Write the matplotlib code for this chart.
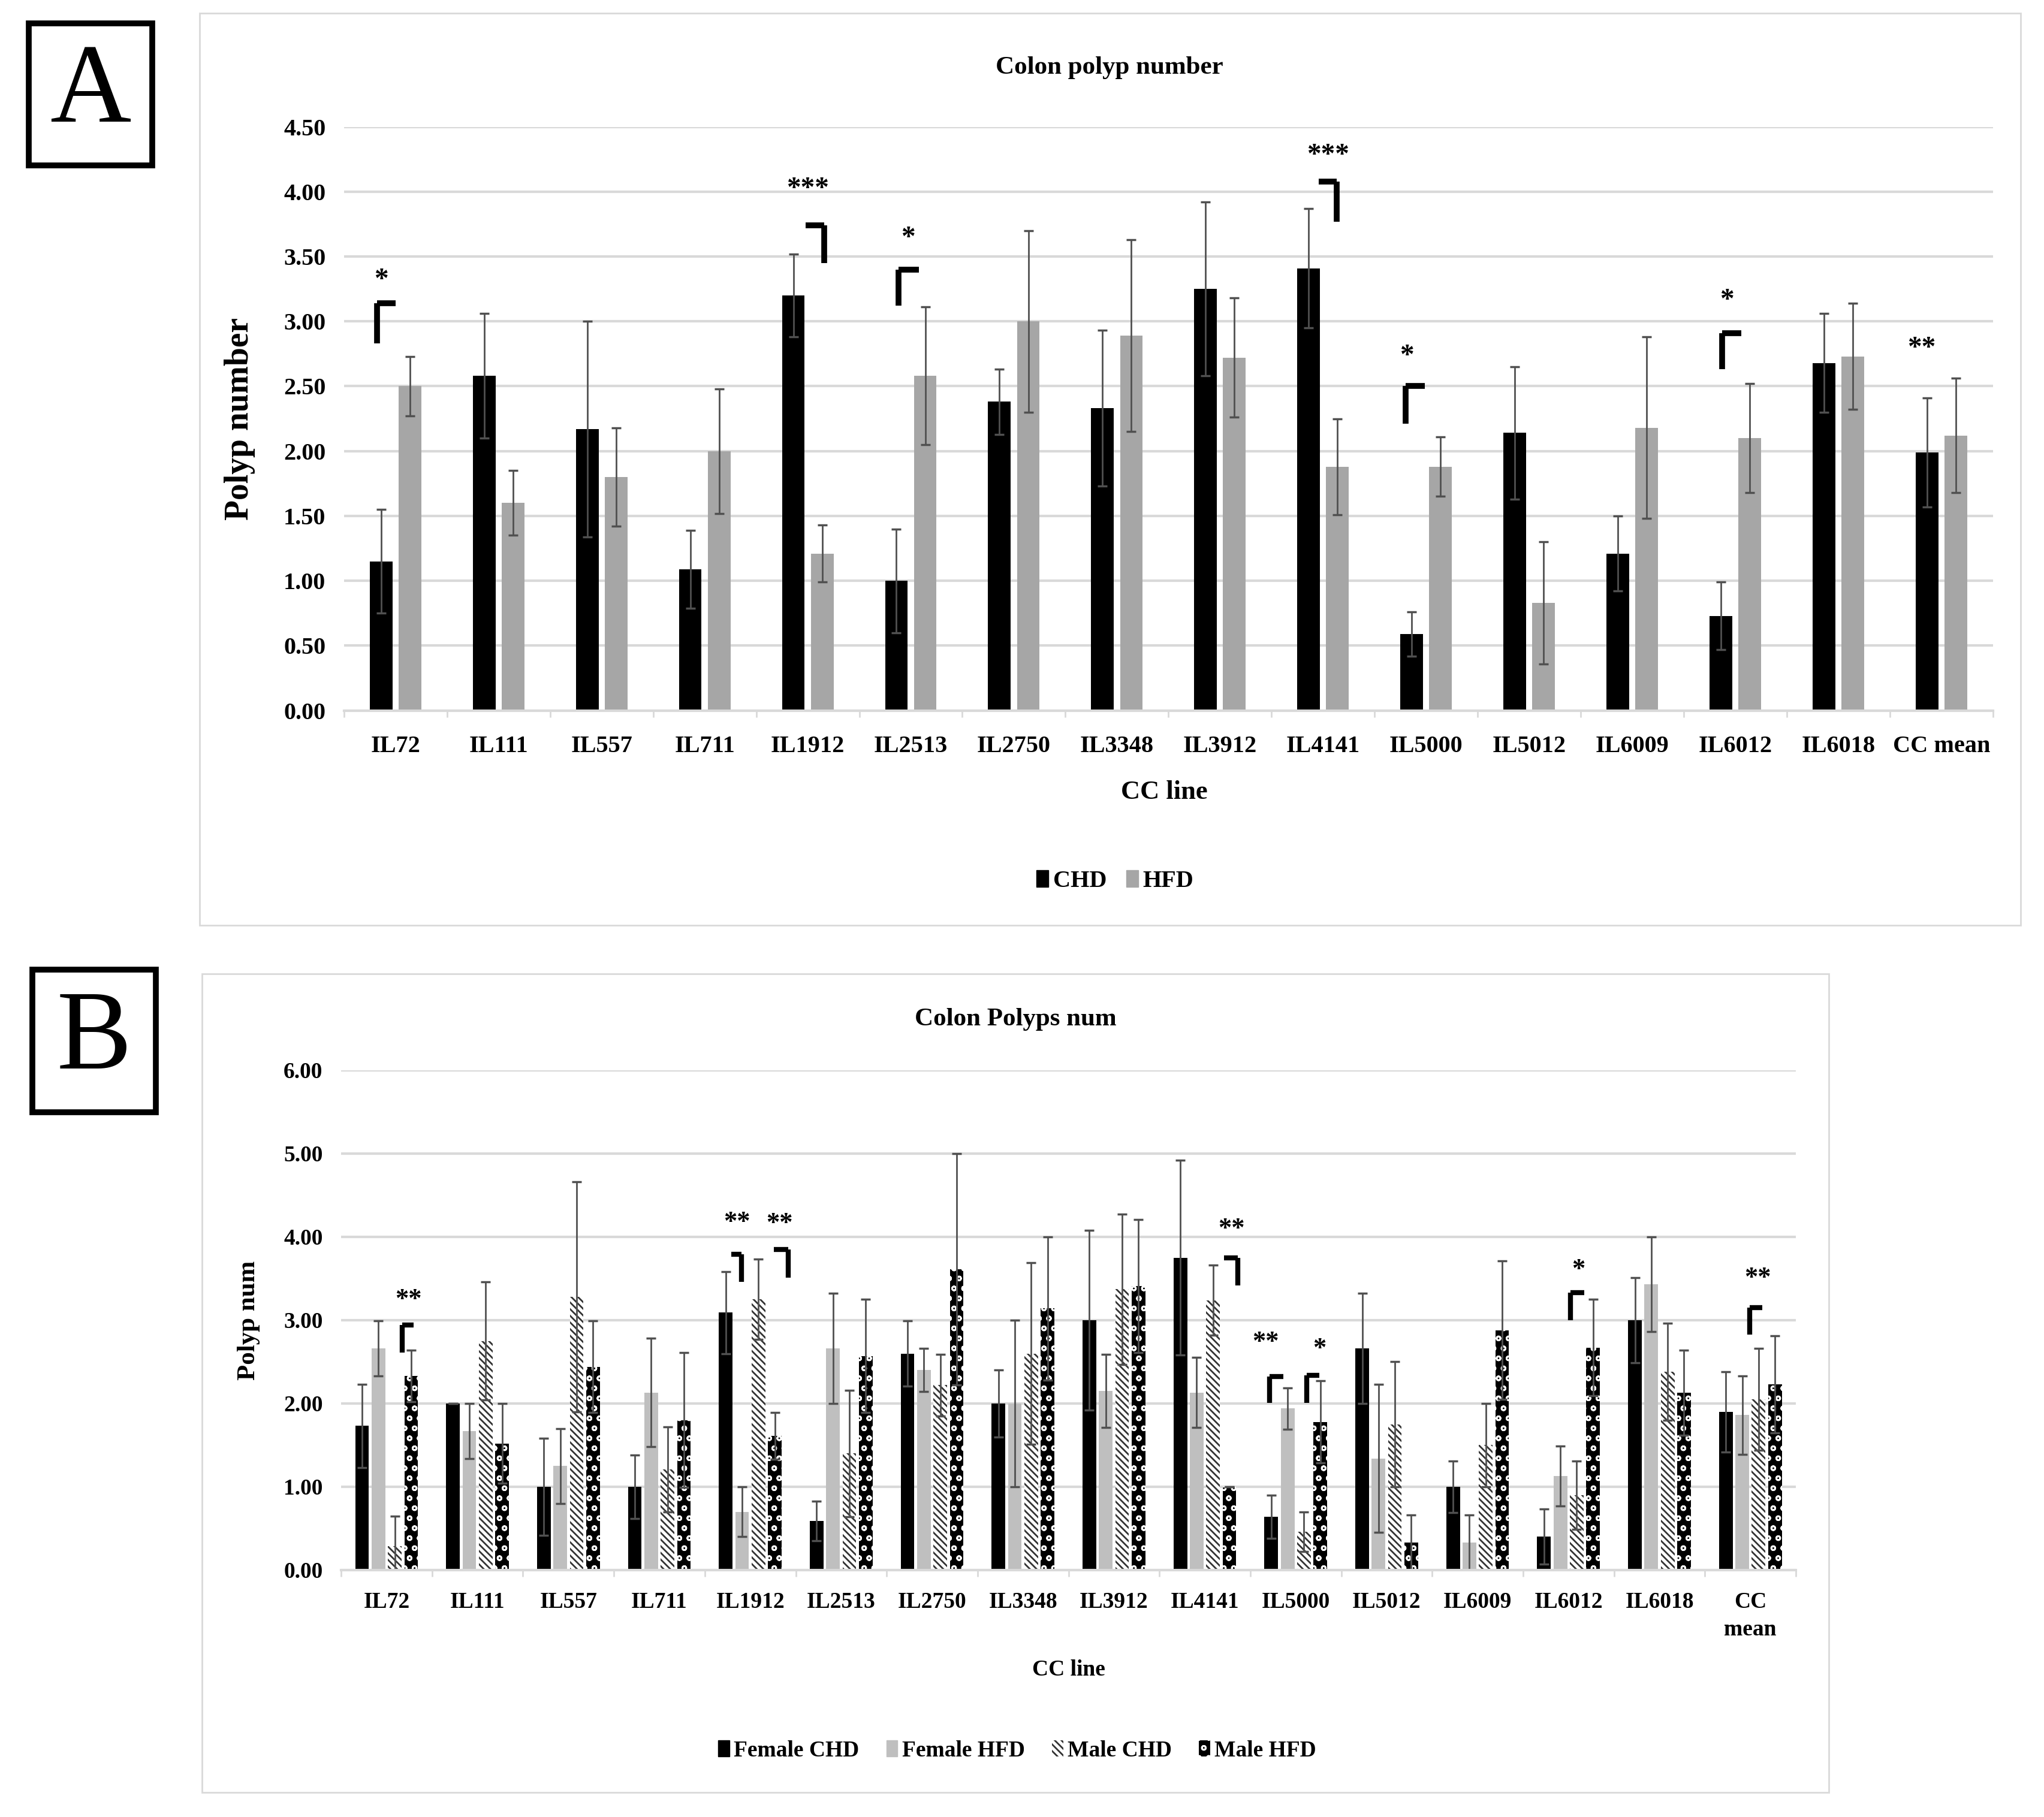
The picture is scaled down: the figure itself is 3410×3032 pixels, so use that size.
import matplotlib
matplotlib.use("Agg")
import matplotlib.pyplot as plt
import numpy as np
from matplotlib.patches import Rectangle, Patch

plt.rcParams['font.family'] = ['Liberation Serif', 'DejaVu Serif']
plt.rcParams['font.weight'] = 'bold'
plt.rcParams['axes.labelweight'] = 'bold'
plt.rcParams['hatch.linewidth'] = 2.0

# ---- data ----
lines_a = ["IL72", "IL111", "IL557", "IL711", "IL1912", "IL2513", "IL2750", "IL3348",
           "IL3912", "IL4141", "IL5000", "IL5012", "IL6009", "IL6012", "IL6018", "CC mean"]
chd = [1.15, 2.58, 2.17, 1.09, 3.20, 1.00, 2.38, 2.33, 3.25, 3.41, 0.59, 2.14, 1.21, 0.73, 2.68, 1.99]
chd_err = [0.40, 0.48, 0.83, 0.30, 0.32, 0.40, 0.25, 0.60, 0.67, 0.46, 0.17, 0.51, 0.29, 0.26, 0.38, 0.42]
hfd = [2.50, 1.60, 1.80, 2.00, 1.21, 2.58, 3.00, 2.89, 2.72, 1.88, 1.88, 0.83, 2.18, 2.10, 2.73, 2.12]
hfd_err = [0.23, 0.25, 0.38, 0.48, 0.22, 0.53, 0.70, 0.74, 0.46, 0.37, 0.23, 0.47, 0.70, 0.42, 0.41, 0.44]

lines_b = ["IL72", "IL111", "IL557", "IL711", "IL1912", "IL2513", "IL2750", "IL3348",
           "IL3912", "IL4141", "IL5000", "IL5012", "IL6009", "IL6012", "IL6018", "CC\nmean"]
f_chd = [1.73, 2.00, 1.00, 1.00, 3.09, 0.59, 2.60, 2.00, 3.00, 3.75, 0.64, 2.66, 1.00, 0.40, 3.00, 1.90]
f_chd_err = [0.50, 0.00, 0.58, 0.38, 0.49, 0.24, 0.39, 0.40, 1.08, 1.17, 0.26, 0.66, 0.31, 0.33, 0.51, 0.48]
f_hfd = [2.66, 1.67, 1.25, 2.13, 0.70, 2.66, 2.40, 2.00, 2.15, 2.13, 1.94, 1.34, 0.33, 1.13, 3.43, 1.86]
f_hfd_err = [0.33, 0.33, 0.45, 0.65, 0.30, 0.66, 0.26, 1.00, 0.44, 0.42, 0.25, 0.89, 0.33, 0.36, 0.57, 0.47]
m_chd = [0.29, 2.75, 3.28, 1.21, 3.25, 1.40, 2.22, 2.60, 3.37, 3.24, 0.46, 1.75, 1.50, 0.90, 2.38, 2.05]
m_chd_err = [0.36, 0.71, 1.38, 0.51, 0.48, 0.76, 0.37, 1.09, 0.90, 0.42, 0.24, 0.75, 0.50, 0.41, 0.58, 0.61]
m_hfd = [2.33, 1.52, 2.44, 1.80, 1.61, 2.57, 3.61, 3.14, 3.41, 1.00, 1.78, 0.33, 2.88, 2.67, 2.13, 2.23]
m_hfd_err = [0.31, 0.48, 0.55, 0.81, 0.28, 0.68, 1.39, 0.86, 0.80, 0.00, 0.49, 0.33, 0.83, 0.58, 0.51, 0.58]

# significance marks: (category, bracket x0, x1, y_low, y_high, corner side, star x, star y, text)
sig_a = [(0, -0.18, 0.00, 2.83, 3.14, "L", -0.14, 3.22, "*"),
         (4, -0.02, 0.16, 3.45, 3.74, "R", 0.00, 3.92, "***"),
         (5, -0.12, 0.08, 3.12, 3.40, "L", -0.03, 3.54, "*"),
         (9, -0.04, 0.13, 3.77, 4.08, "R", 0.05, 4.18, "***"),
         (10, -0.20, -0.01, 2.21, 2.50, "L", -0.19, 2.63, "*"),
         (13, -0.13, 0.06, 2.63, 2.91, "L", -0.08, 3.06, "*"),
         (15, None, None, None, None, None, -0.19, 2.69, "**")]
sig_b = [(0, 0.17, 0.30, 2.61, 2.94, "L", 0.24, 3.10, "**"),
         (4, -0.21, -0.10, 3.46, 3.79, "R", -0.15, 4.03, "**"),
         (4, 0.26, 0.42, 3.51, 3.85, "R", 0.32, 4.01, "**"),
         (9, 0.21, 0.36, 3.42, 3.75, "R", 0.29, 3.95, "**"),
         (10, -0.29, -0.14, 2.01, 2.32, "L", -0.33, 2.59, "**"),
         (10, 0.12, 0.26, 2.01, 2.34, "L", 0.26, 2.51, "*"),
         (13, 0.02, 0.17, 3.00, 3.33, "L", 0.11, 3.46, "*"),
         (15, -0.01, 0.13, 2.83, 3.15, "L", 0.08, 3.36, "**")]

fig = plt.figure(figsize=(34.1, 30.32), dpi=100)

# panel frames and letter boxes
fig.add_artist(Rectangle((0.0977, 0.4908), 0.891, 0.502, transform=fig.transFigure,
                         fill=False, edgecolor="#d9d9d9", lw=2))
fig.add_artist(Rectangle((0.0988, 0.0135), 0.796, 0.4505, transform=fig.transFigure,
                         fill=False, edgecolor="#d9d9d9", lw=2))
for x0, y0, letter in [(0.0141, 0.909, "A"), (0.0158, 0.388, "B")]:
    fig.add_artist(Rectangle((x0, y0), 0.0604, 0.0782, transform=fig.transFigure,
                             fill=False, edgecolor="black", lw=7))
    fig.text(x0 + 0.0302, y0 + 0.0391, letter, ha="center", va="center",
             fontsize=135, fontweight="normal")


def style_axes(ax, labels, ymax, step, pad, fs):
    ax.set_xlim(-0.5, len(labels) - 0.5)
    ax.set_ylim(0, ymax)
    ax.set_yticks(np.arange(0, ymax + 0.001, step))
    ax.set_yticklabels([f"{v:.2f}" for v in np.arange(0, ymax + 0.001, step)], fontsize=fs)
    ax.set_xticks(np.arange(len(labels)))
    ax.set_xticklabels(labels, fontsize=fs, linespacing=1.4)
    ax.set_xticks(np.arange(-0.5, len(labels)), minor=True)
    ax.tick_params(axis="x", which="major", length=0, pad=pad)
    ax.tick_params(axis="x", which="minor", length=8, color="#d9d9d9", width=2)
    ax.tick_params(axis="y", length=0, pad=22)
    for s in ["top", "right", "left"]:
        ax.spines[s].set_visible(False)
    ax.spines["bottom"].set_color("#d9d9d9")
    ax.spines["bottom"].set_linewidth(3)
    ax.grid(axis="y", color="#d9d9d9", lw=3)
    ax.set_axisbelow(True)


def draw_sig(ax, sigs, lw, fs):
    for cat, x0, x1, ylo, yhi, side, sx, sy, txt in sigs:
        if x0 is not None:
            vx = cat + (x0 if side == "L" else x1)
            ax.plot([cat + x0, cat + x1], [yhi, yhi], color="black", lw=lw, solid_capstyle="butt")
            ax.plot([vx, vx], [ylo, yhi], color="black", lw=lw, solid_capstyle="butt")
        ax.text(cat + sx, sy, txt, ha="center", va="bottom", fontsize=fs)


ekw = dict(ecolor="#505050", elinewidth=2, capsize=6, capthick=2.5)

# ---- panel A ----
axa = fig.add_axes([0.1683, 0.609, 0.8067, 0.3212])
x = np.arange(len(lines_a))
axa.bar(x - 0.14, chd, 0.22, color="black", yerr=chd_err, error_kw=ekw, label="CHD")
axa.bar(x + 0.14, hfd, 0.22, color="#a6a6a6", yerr=hfd_err, error_kw=ekw, label="HFD")
style_axes(axa, lines_a, 4.5, 0.5, 30, 29)
axa.set_ylabel("Polyp number", fontsize=40, labelpad=34)
draw_sig(axa, sig_a, 7, 34)
fig.text(0.5428, 0.9627, "Colon polyp number", ha="center", va="center", fontsize=31)
fig.text(0.5695, 0.564, "CC line", ha="center", va="center", fontsize=32)
fig.legend(handles=[Patch(color="black", label="CHD"), Patch(color="#a6a6a6", label="HFD")],
           loc="center", bbox_to_anchor=(0.5455, 0.515), ncol=2, frameon=False,
           fontsize=29, handlelength=0.5, handleheight=0.7, handletextpad=0.2, columnspacing=0.8)

# ---- panel B ----
axb = fig.add_axes([0.1669, 0.1359, 0.7117, 0.2751])
xb = np.arange(len(lines_b))
w, s = 0.15, 0.18
axb.bar(xb - 1.5 * s, f_chd, w, color="black", yerr=f_chd_err, error_kw=ekw)
axb.bar(xb - 0.5 * s, f_hfd, w, color="#bfbfbf", yerr=f_hfd_err, error_kw=ekw)
axb.bar(xb + 0.5 * s, m_chd, w, facecolor="white", edgecolor="#333333", hatch="\\\\\\",
        lw=0, yerr=m_chd_err, error_kw=ekw)
axb.bar(xb + 1.5 * s, m_hfd, w, facecolor="black", edgecolor="white", hatch="o",
        lw=0, yerr=m_hfd_err, error_kw=ekw)
style_axes(axb, lines_b, 6.0, 1.0, 26, 27)
axb.set_ylabel("Polyp num", fontsize=31, labelpad=28)
draw_sig(axb, sig_b, 6, 32)
fig.text(0.4968, 0.439, "Colon Polyps num", ha="center", va="center", fontsize=31)
fig.text(0.523, 0.0811, "CC line", ha="center", va="center", fontsize=27)
fig.legend(handles=[Patch(color="black", label="Female CHD"),
                    Patch(color="#bfbfbf", label="Female HFD"),
                    Patch(facecolor="white", edgecolor="#333333", hatch="\\\\\\", lw=0, label="Male CHD"),
                    Patch(facecolor="black", edgecolor="white", hatch="o", lw=0, label="Male HFD")],
           loc="center", bbox_to_anchor=(0.4977, 0.0366), ncol=4, frameon=False,
           fontsize=27, handlelength=0.5, handleheight=0.7, handletextpad=0.2, columnspacing=1.2)

fig.savefig("out.png", dpi=100)
